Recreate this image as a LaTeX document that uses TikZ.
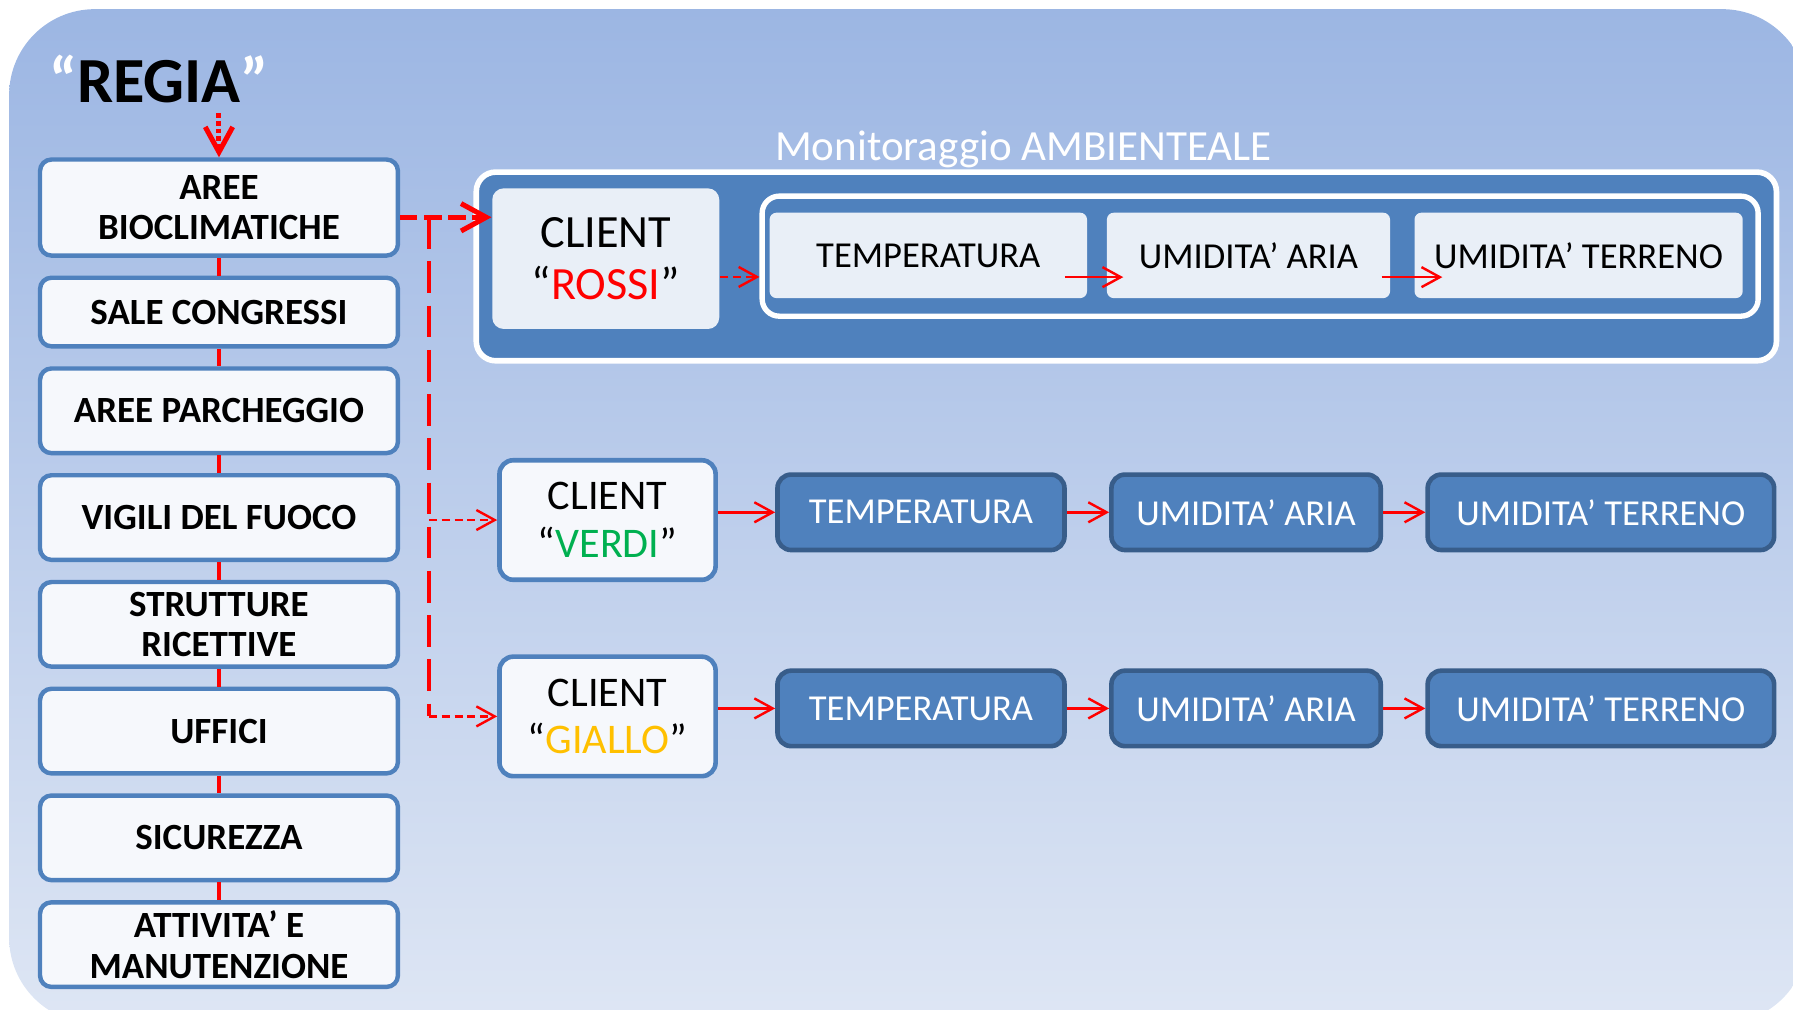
\documentclass[tikz,border=0pt]{standalone}
\usepackage{fontspec}
\setmainfont{Carlito}
\usetikzlibrary{arrows.meta,positioning}
\definecolor{boxblue}{RGB}{79,129,189}
\definecolor{darkblue}{RGB}{56,93,138}
\definecolor{paleblue}{RGB}{233,239,247}
\definecolor{boxwhite}{RGB}{246,248,252}
\definecolor{bgtop}{RGB}{156,182,227}
\definecolor{bgbot}{RGB}{222,230,244}
\definecolor{verde}{RGB}{0,176,80}
\definecolor{giallo}{RGB}{255,192,0}
\tikzset{
  area/.style={draw=boxblue, line width=1.1pt, fill=boxwhite, rounded corners=0.1cm,
    minimum width=3.13cm, minimum height=0.74cm, inner sep=1pt, align=center,
    font=\bfseries\fontsize{9.2}{10.1}\selectfont},
  client/.style={draw=boxblue, line width=1.15pt, fill=boxwhite, rounded corners=0.12cm,
    minimum width=1.89cm, minimum height=1.045cm, inner sep=1pt, align=center,
    font=\fontsize{10.5}{11.8}\selectfont},
  sensor/.style={draw=darkblue, line width=1.15pt, fill=boxblue, rounded corners=0.12cm,
    minimum height=0.66cm, inner sep=1pt, text=white, font=\fontsize{9.1}{11}\selectfont},
  pale/.style={fill=paleblue, rounded corners=0.06cm, minimum height=0.747cm, inner sep=1pt,
    font=\fontsize{9.1}{11}\selectfont},
  redarrow/.style={red, line width=0.6pt, -{Straight Barb[length=1.6mm,width=1.75mm]}},
  reddash/.style={redarrow, dash pattern=on 2pt off 1.2pt},
  bigarrow/.style={red, line width=1.25pt, -{Straight Barb[length=2.2mm,width=2.4mm]}},
}
\begin{document}
\begin{tikzpicture}
\useasboundingbox (0,0) rectangle (15.68,-8.83);
\shade[top color=bgtop, bottom color=bgbot, rounded corners=0.75cm] (0.08,-0.08) rectangle (15.81,-8.95);

% regia
\node[font=\bfseries\fontsize{16}{18}\selectfont, inner sep=0.08cm, anchor=base] (regia) at (1.39,-0.90)
  {\textcolor{white}{“}REGIA\textcolor{white}{”}};

% colonna delle aree
\node[area, minimum height=0.84cm] (area1) at (1.915,-1.815) {AREE\\BIOCLIMATICHE};
\node[area, minimum height=0.60cm, below=0.155cm of area1] (area2) {SALE CONGRESSI};
\node[area, below=0.155cm of area2] (area3) {AREE PARCHEGGIO};
\node[area, below=0.155cm of area3] (area4) {VIGILI DEL FUOCO};
\node[area, below=0.155cm of area4] (area5) {STRUTTURE\\RICETTIVE};
\node[area, below=0.155cm of area5] (area6) {UFFICI};
\node[area, below=0.155cm of area6] (area7) {SICUREZZA};
\node[area, below=0.155cm of area7] (area8) {ATTIVITA’ E\\MANUTENZIONE};
\draw[red, line width=1pt] (area1) -- (area2) (area2) -- (area3) (area3) -- (area4) (area4) -- (area5)
  (area5) -- (area6) (area6) -- (area7) (area7) -- (area8);

% monitoraggio
\node[text=white, font=\fontsize{10.7}{12}\selectfont, anchor=base] (titolo) at (8.95,-1.40) {Monitoraggio AMBIENTEALE};
\node[draw=white, line width=1.4pt, fill=boxblue, rounded corners=0.17cm,
  minimum width=11.37cm, minimum height=1.65cm] (moni) at (9.85,-2.33) {};
\node[pale, minimum width=1.985cm, minimum height=1.23cm, rounded corners=0.1cm, align=center,
  font=\fontsize{11.5}{13.1}\selectfont] (rossi) at (5.2975,-2.262) {CLIENT\\“\textcolor{red}{ROSSI}”};
\node[draw=white, line width=1.33pt, fill=boxblue, rounded corners=0.15cm,
  minimum width=8.71cm, minimum height=1.05cm] (sensori) at (11.02,-2.24) {};
\node[pale, minimum width=2.776cm] (ta) at (8.118,-2.2335) {TEMPERATURA};
\node[pale, minimum width=2.476cm] (ua) at (10.918,-2.2335) {UMIDITA’ ARIA};
\node[pale, minimum width=2.87cm] (tb) at (13.805,-2.2335) {UMIDITA’ TERRENO};

% client verdi e giallo
\node[client] (verdi) at (5.313,-4.5475) {CLIENT\\“\textcolor{verde}{VERDI}”};
\node[client] (giallo) at (5.313,-6.265) {CLIENT\\“\textcolor{giallo}{GIALLO}”};
\node[sensor, minimum width=2.51cm] (t1) at (8.054,-4.48) {TEMPERATURA};
\node[sensor, minimum width=2.355cm, right=0.37cm of t1] (u1) {UMIDITA’ ARIA};
\node[sensor, minimum width=3.03cm, right=0.37cm of u1] (w1) {UMIDITA’ TERRENO};
\node[sensor, minimum width=2.51cm] (t2) at (8.054,-6.195) {TEMPERATURA};
\node[sensor, minimum width=2.355cm, right=0.37cm of t2] (u2) {UMIDITA’ ARIA};
\node[sensor, minimum width=3.03cm, right=0.37cm of u2] (w2) {UMIDITA’ TERRENO};

% frecce
\coordinate (split) at (3.75,-1.90);
\draw[bigarrow, dash pattern=on 1.15pt off 0.75pt] (regia.south -| area1.north) -- (area1.north);
\draw[bigarrow, dash pattern=on 4.3pt off 1.7pt] (area1.east |- split) -- (split -| rossi.west);
\draw[red, line width=1pt, dash pattern=on 7.9pt off 3.1pt] (split) -- (split |- giallo.west);
\draw[reddash] (split |- verdi.west) -- (verdi.west);
\draw[reddash] (split |- giallo.west) -- (giallo.west);
\draw[reddash] ([yshift=-0.16cm]rossi.east) -- ([yshift=-0.16cm]rossi.east -| sensori.west);
\draw[redarrow] ([xshift=-0.2cm,yshift=-0.19cm]ta.east) -- ([xshift=0.15cm,yshift=-0.19cm]ua.west);
\draw[redarrow] ([xshift=-0.08cm,yshift=-0.19cm]ua.east) -- ([xshift=0.25cm,yshift=-0.19cm]tb.west);
\draw[redarrow] (verdi.east |- t1.west) -- (t1.west);
\draw[redarrow] (t1) -- (u1);
\draw[redarrow] (u1) -- (w1);
\draw[redarrow] (giallo.east |- t2.west) -- (t2.west);
\draw[redarrow] (t2) -- (u2);
\draw[redarrow] (u2) -- (w2);
\end{tikzpicture}
\end{document}
